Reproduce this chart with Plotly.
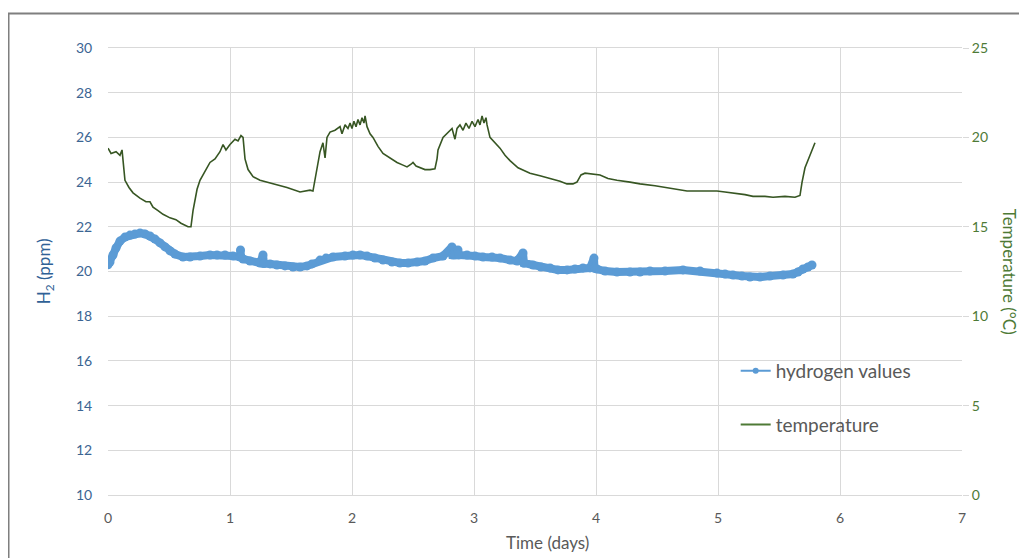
import plotly.graph_objects as go

# ---- data ----
temp_px = [108,111,116,120,122,125,129,133,140,146,150,153,158,163,170,176,181,185,188,191,
           193,197,200,205,210,215,220,223,226,230,235,238,241,243,245,248,253,260,270,280,
           287,300,310,313,317,320,323,325,327,330,335,340,342,345,348,350,352,354,356,358,
           360,362,364,365,367,370,373,378,383,390,397,403,407,411,413,416,420,425,430,435,
           437,438,443,448,452,455,457,460,463,466,469,472,475,478,480,482,484,486,487,490,
           495,500,505,510,518,525,530,540,550,560,567,573,577,581,585,593,600,608,617,630,
           640,655,667,680,687,700,717,725,733,745,753,765,773,785,795,800,802,805,810,815]
temp_time = [round((p - 108) / 122, 3) for p in temp_px]
temp_vals = [19.4,19.1,19.2,19.0,19.3,17.6,17.2,16.9,16.6,16.4,16.4,16.1,15.9,15.7,15.5,15.4,15.2,15.1,15.0,15.0,
             15.9,17.1,17.6,18.1,18.6,18.8,19.2,19.6,19.3,19.6,19.9,19.8,20.1,20.0,18.8,18.2,17.8,17.6,17.45,17.3,
             17.2,16.95,17.05,17.0,18.35,19.2,19.7,18.85,20.0,20.3,20.4,20.6,20.2,20.7,20.5,20.8,20.5,20.9,20.6,21.0,
             20.7,21.1,20.8,21.2,20.6,20.2,20.0,19.5,19.1,18.85,18.6,18.45,18.35,18.5,18.6,18.4,18.3,18.2,18.2,18.25,
             18.8,19.3,20.0,20.3,20.5,19.9,20.5,20.7,20.4,20.8,20.5,20.9,20.6,21.0,20.7,21.2,20.8,21.1,20.7,20.0,
             19.7,19.4,19.0,18.7,18.3,18.1,18.0,17.85,17.7,17.55,17.4,17.4,17.5,17.9,18.0,17.95,17.9,17.7,17.6,17.5,
             17.4,17.3,17.2,17.1,17.0,17.0,17.0,16.95,16.9,16.8,16.7,16.7,16.65,16.7,16.65,16.75,17.5,18.3,19.0,19.7]

h2_px = [108,110,113,116,120,125,130,135,140,145,150,155,160,165,170,175,183,190,200,210,
         217,225,233,240,240.5,241,243,250,260,263,263.5,264,270,277,285,293,300,307,312,320,
         326,333,345,353,360,367,375,383,392,400,408,417,425,433,443,452,452.5,455,458,458.5,
         467,475,483,492,500,510,517,523,523.5,524,533,541,550,558,567,575,583,590,594,594.5,
         597,605,617,630,640,650,665,683,700,717,725,733,742,750,760,770,783,793,798,803,
         808,812]
h2_time = [round((p - 108) / 122, 4) for p in h2_px]
h2_vals = [20.3,20.42,20.74,21.05,21.36,21.54,21.63,21.68,21.72,21.68,21.59,21.45,21.28,21.1,20.92,20.78,20.65,20.65,20.69,20.74,
           20.74,20.74,20.69,20.65,20.96,20.65,20.56,20.47,20.38,20.74,20.38,20.36,20.34,20.29,20.25,20.2,20.2,20.25,20.34,20.51,
           20.6,20.65,20.69,20.74,20.74,20.69,20.6,20.51,20.42,20.38,20.38,20.42,20.47,20.6,20.69,21.1,20.74,20.74,20.96,20.74,
           20.74,20.69,20.65,20.65,20.6,20.51,20.47,20.83,20.38,20.38,20.29,20.2,20.16,20.07,20.07,20.11,20.16,20.16,20.6,20.14,
           20.11,20.02,19.98,19.98,19.98,20.02,20.02,20.07,20.02,19.93,19.89,19.84,19.8,19.75,19.75,19.8,19.84,19.89,19.98,20.11,
           20.2,20.29]

BLUE = "#5B9BD5"
GREEN = "#375623"
FONT = "Lato"

fig = go.Figure()
fig.add_trace(go.Scatter(x=h2_time, y=h2_vals, mode="lines+markers",
                         line=dict(color=BLUE, width=8),
                         marker=dict(color=BLUE, size=9),
                         showlegend=False, yaxis="y"))
fig.add_trace(go.Scatter(x=temp_time, y=temp_vals, mode="lines",
                         line=dict(color=GREEN, width=1.6),
                         showlegend=False, yaxis="y2"))
# legend entries
fig.add_trace(go.Scatter(x=[None], y=[None], mode="lines+markers", name="hydrogen values",
                         line=dict(color=BLUE, width=2), marker=dict(color=BLUE, size=6),
                         legendgroup="a"))
fig.add_trace(go.Scatter(x=[None], y=[None], mode="lines", name="temperature",
                         line=dict(color="#4E7A36", width=2), legendgroup="b"))

grid = "#D9D9D9"
fig.update_layout(
    width=1027, height=558,
    margin=dict(l=100, r=73, t=40, b=71),
    paper_bgcolor="white", plot_bgcolor="white",
    font=dict(family=FONT, color="#595959"),
    xaxis=dict(range=[0, 7], dtick=1, showgrid=True, gridcolor=grid, gridwidth=1,
               showline=True, linecolor=grid, mirror=True, zeroline=False,
               ticks="outside", ticklen=10, tickcolor="rgba(0,0,0,0)",
               tickfont=dict(size=14, color="#595959", family=FONT)),
    yaxis=dict(range=[10, 30], dtick=2, showgrid=True, gridcolor=grid, zeroline=False,
               showline=False, ticks="outside", ticklen=12, tickcolor="rgba(0,0,0,0)",
               tickfont=dict(size=14, color="#3B6593", family=FONT)),
    yaxis2=dict(range=[0, 25], dtick=5, overlaying="y", side="right", showgrid=False,
                zeroline=False, showline=False, ticks="outside", ticklen=6, tickcolor=grid,
                tickfont=dict(size=14, color="#4E7A36", family=FONT)),
    legend=dict(x=0.735, y=0.32, xanchor="left", yanchor="top",
                bgcolor="rgba(0,0,0,0)", font=dict(size=19, color="#595959", family=FONT),
                tracegroupgap=26, traceorder="grouped"),
    annotations=[
        dict(text="H<sub>2</sub> (ppm)", xref="paper", yref="paper", x=-0.074, y=0.5,
             xanchor="center", yanchor="middle",
             textangle=-90, showarrow=False, font=dict(size=17, color="#2F6196", family=FONT)),
        dict(text="Temperature (°C)", xref="paper", yref="paper", x=1.056, y=0.5,
             xanchor="center", yanchor="middle",
             textangle=90, showarrow=False, font=dict(size=17, color="#4E7A36", family=FONT)),
        dict(text="Time (days)", xref="paper", yref="paper", x=0.515, y=-0.107,
             xanchor="center", yanchor="middle",
             showarrow=False, font=dict(size=17, color="#595959", family=FONT)),
    ],
    shapes=[dict(type="rect", xref="paper", yref="paper", x0=-0.1165, x1=1.2,
                 y0=-0.3, y1=1.0772, line=dict(color="#7F7F7F", width=2),
                 fillcolor="rgba(0,0,0,0)", layer="below")],
)

fig.write_html("out.html")
